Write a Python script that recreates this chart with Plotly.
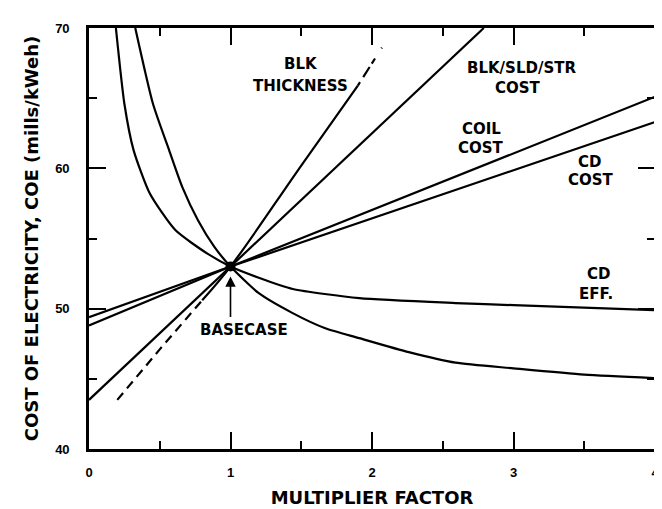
import plotly.graph_objects as go

# ---- data ----
# CD EFF (outer left branch -> upper right branch)
cd_eff_x = [0.19, 0.25, 0.315, 0.43, 0.61, 0.84, 1.0, 1.2, 1.44, 1.91, 2.59, 3.0, 4.0]
cd_eff_y = [70.0, 64.6, 61.3, 58.2, 55.6, 53.9, 53.0, 52.2, 51.4, 50.75, 50.4, 50.25, 49.9]

# unlabelled decreasing curve (inner left branch -> lower right branch)
low_x = [0.327, 0.452, 0.566, 0.658, 0.77, 0.886, 1.0, 1.2, 1.436, 1.67, 1.91, 2.26, 2.59, 3.0, 3.5, 4.0]
low_y = [70.0, 64.6, 61.3, 58.7, 56.3, 54.4, 53.0, 51.1, 49.7, 48.6, 47.9, 46.9, 46.15, 45.75, 45.3, 45.05]

# BLK/SLD/STR COST
bss_x = [0.0, 1.0, 2.79]
bss_y = [43.5, 53.0, 70.0]

# BLK THICKNESS (dashed ends, solid middle)
blk_x = [0.2, 0.5, 0.8, 1.0, 1.5, 1.9, 2.07]
blk_y = [43.5, 47.1, 50.6, 53.0, 60.2, 65.9, 68.6]

# COIL COST
coil_x = [0.0, 1.0, 4.0]
coil_y = [48.8, 53.0, 65.1]

# CD COST
cdc_x = [0.0, 1.0, 4.0]
cdc_y = [49.4, 53.0, 63.3]

# base case
base_x = [1.0]
base_y = [53.0]

# curve labels
label_text = ["BLK", "THICKNESS", "BLK/SLD/STR", "COST", "COIL", "COST",
              "CD", "COST", "CD", "EFF.", "BASECASE"]
label_x = [1.495, 1.495, 3.053, 3.03, 2.772, 2.772, 3.534, 3.545, 3.604, 3.58, 1.097]
label_y = [67.41, 65.89, 67.13, 65.70, 62.78, 61.43, 60.47, 59.17, 52.47, 51.05, 48.48]

x_ticks = [0, 1, 2, 3, 4]
y_ticks = [40, 50, 60, 70]

LW = 2.2
line_style = dict(color="black", width=LW)

fig = go.Figure()

fig.add_trace(go.Scatter(x=cd_eff_x, y=cd_eff_y, mode="lines",
                         line=dict(color="black", width=LW, shape="spline", smoothing=0.6)))
fig.add_trace(go.Scatter(x=low_x, y=low_y, mode="lines",
                         line=dict(color="black", width=LW, shape="spline", smoothing=0.6)))
fig.add_trace(go.Scatter(x=bss_x, y=bss_y, mode="lines", line=line_style))
fig.add_trace(go.Scatter(x=coil_x, y=coil_y, mode="lines", line=line_style))
fig.add_trace(go.Scatter(x=cdc_x, y=cdc_y, mode="lines", line=line_style))
# BLK THICKNESS: dashed lower part, solid middle, dashed top
fig.add_trace(go.Scatter(x=blk_x[0:3], y=blk_y[0:3], mode="lines",
                         line=dict(color="black", width=LW, dash="9px,6px")))
fig.add_trace(go.Scatter(x=blk_x[2:6], y=blk_y[2:6], mode="lines",
                         line=dict(color="black", width=LW, shape="spline")))
fig.add_trace(go.Scatter(x=blk_x[5:7], y=blk_y[5:7], mode="lines",
                         line=dict(color="black", width=LW, dash="4px,6px,12px")))
fig.add_trace(go.Scatter(x=base_x, y=base_y, mode="markers",
                         marker=dict(color="black", size=10, symbol="circle")))

label_font = dict(family="DejaVu Sans", size=15, color="black", weight="bold")
for t, lx, ly in zip(label_text, label_x, label_y):
    fig.add_annotation(x=lx, y=ly, text=t, showarrow=False, font=label_font,
                       xanchor="center", yanchor="middle")

# arrow from BASECASE label up to the base-case point
fig.add_annotation(x=base_x[0], y=52.3, ax=base_x[0], ay=49.3,
                   xref="x", yref="y", axref="x", ayref="y",
                   text="", showarrow=True, arrowhead=2, arrowsize=1.3,
                   arrowwidth=1.6, arrowcolor="black")

tick_font = dict(family="Liberation Sans", size=13, color="black", weight="bold")
title_font = dict(family="DejaVu Sans", size=18, color="black", weight="bold")

fig.update_xaxes(range=[0, 4], tickvals=x_ticks, ticktext=[str(v) for v in x_ticks],
                 ticks="inside", ticklen=17, tickwidth=1.6, tickcolor="black",
                 minor=dict(dtick=0.5, ticks="inside", ticklen=8, tickwidth=1.6, tickcolor="black"),
                 showline=True, linewidth=2.6, linecolor="black", mirror="ticks",
                 showgrid=False, zeroline=False, tickfont=tick_font, ticklabelstandoff=10,
                 title=dict(text="MULTIPLIER FACTOR", font=title_font, standoff=12))
fig.update_yaxes(range=[40, 70], tickvals=y_ticks, ticktext=[str(v) for v in y_ticks],
                 ticks="inside", ticklen=17, tickwidth=1.6, tickcolor="black",
                 minor=dict(dtick=5, ticks="inside", ticklen=8, tickwidth=1.6, tickcolor="black"),
                 showline=True, linewidth=2.6, linecolor="black", mirror="ticks",
                 showgrid=False, zeroline=False, tickfont=tick_font, ticklabelstandoff=14,
                 title=dict(text="COST OF ELECTRICITY, COE (mills/kWeh)", font=title_font, standoff=12))

# the page body adds an 8px margin, so the figure is 8px smaller than the window
fig.update_layout(width=654, height=501, showlegend=False,
                  margin=dict(l=81, r=4, t=20, b=60),
                  paper_bgcolor="white", plot_bgcolor="white")

fig.write_html("out.html")
